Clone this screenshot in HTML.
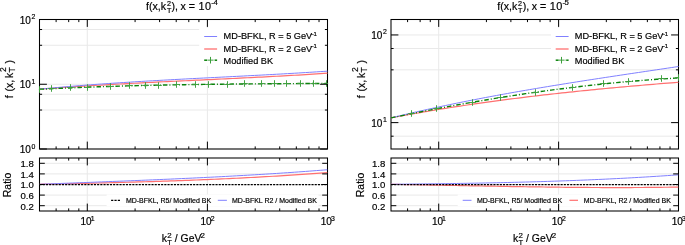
<!DOCTYPE html>
<html><head><meta charset="utf-8"><style>
html,body{margin:0;padding:0;background:#fff;}
body{width:685px;height:245px;overflow:hidden;}
svg{display:block;will-change:transform;}
text{font-family:"Liberation Sans", sans-serif;stroke:#000;stroke-width:0.18px;}
</style></head><body>
<svg width="685" height="245" viewBox="0 0 685 245" font-family='"Liberation Sans", sans-serif' fill="#000">
<rect width="685" height="245" fill="#fff"/>
<line x1="39.50" y1="149.00" x2="327.50" y2="149.00" stroke="#e9e9e9" stroke-width="1.0" />
<line x1="39.50" y1="84.25" x2="327.50" y2="84.25" stroke="#e9e9e9" stroke-width="1.0" />
<line x1="39.50" y1="19.50" x2="327.50" y2="19.50" stroke="#e9e9e9" stroke-width="1.0" />
<line x1="39.50" y1="110.02" x2="327.50" y2="110.02" stroke="#e9e9e9" stroke-width="1.0" />
<line x1="39.50" y1="94.28" x2="327.50" y2="94.28" stroke="#e9e9e9" stroke-width="1.0" />
<line x1="39.50" y1="45.27" x2="327.50" y2="45.27" stroke="#e9e9e9" stroke-width="1.0" />
<line x1="39.50" y1="29.53" x2="327.50" y2="29.53" stroke="#e9e9e9" stroke-width="1.0" />
<line x1="87.29" y1="19.50" x2="87.29" y2="149.00" stroke="#e9e9e9" stroke-width="1.0" />
<line x1="207.40" y1="19.50" x2="207.40" y2="149.00" stroke="#e9e9e9" stroke-width="1.0" />
<line x1="39.50" y1="205.70" x2="327.50" y2="205.70" stroke="#e9e9e9" stroke-width="1.0" />
<line x1="39.50" y1="195.10" x2="327.50" y2="195.10" stroke="#e9e9e9" stroke-width="1.0" />
<line x1="39.50" y1="184.50" x2="327.50" y2="184.50" stroke="#e9e9e9" stroke-width="1.0" />
<line x1="39.50" y1="173.90" x2="327.50" y2="173.90" stroke="#e9e9e9" stroke-width="1.0" />
<line x1="39.50" y1="163.30" x2="327.50" y2="163.30" stroke="#e9e9e9" stroke-width="1.0" />
<line x1="87.29" y1="158.00" x2="87.29" y2="211.00" stroke="#e9e9e9" stroke-width="1.0" />
<line x1="207.40" y1="158.00" x2="207.40" y2="211.00" stroke="#e9e9e9" stroke-width="1.0" />
<rect x="199.2" y="28.0" width="128.3" height="38.0" fill="#fff"/>
<rect x="106.6" y="194.5" width="211.9" height="11.8" fill="#fff"/>
<rect x="39.50" y="19.50" width="288.00" height="129.50" fill="none" stroke="#000" stroke-width="1.05"/>
<rect x="39.50" y="158.00" width="288.00" height="53.00" fill="none" stroke="#000" stroke-width="1.05"/>
<clipPath id="cu0"><rect x="38.90" y="19.50" width="289.20" height="129.50"/></clipPath>
<clipPath id="cl0"><rect x="39.50" y="158.00" width="288.00" height="53.00"/></clipPath>
<g clip-path="url(#cu0)">
<polyline points="39.50,89.20 43.15,88.92 46.79,88.65 50.44,88.38 54.08,88.11 57.73,87.85 61.37,87.59 65.02,87.34 68.66,87.10 72.31,86.85 75.96,86.61 79.60,86.38 83.25,86.15 86.89,85.92 90.54,85.69 94.18,85.47 97.83,85.25 101.47,85.04 105.12,84.83 108.77,84.62 112.41,84.41 116.06,84.21 119.70,84.01 123.35,83.81 126.99,83.62 130.64,83.43 134.28,83.24 137.93,83.05 141.58,82.86 145.22,82.67 148.87,82.49 152.51,82.31 156.16,82.13 159.80,81.95 163.45,81.77 167.09,81.60 170.74,81.42 174.39,81.25 178.03,81.07 181.68,80.90 185.32,80.73 188.97,80.56 192.61,80.38 196.26,80.21 199.91,80.04 203.55,79.87 207.20,79.70 210.84,79.53 214.49,79.35 218.13,79.18 221.78,79.01 225.42,78.84 229.07,78.66 232.72,78.49 236.36,78.31 240.01,78.13 243.65,77.95 247.30,77.77 250.94,77.59 254.59,77.41 258.23,77.22 261.88,77.03 265.53,76.84 269.17,76.65 272.82,76.46 276.46,76.26 280.11,76.07 283.75,75.87 287.40,75.66 291.04,75.46 294.69,75.25 298.34,75.04 301.98,74.82 305.63,74.60 309.27,74.38 312.92,74.16 316.56,73.93 320.21,73.70 323.85,73.46 327.50,73.22" fill="none" stroke="#ff7070" stroke-width="1.2" stroke-linejoin="round" />
<polyline points="39.50,89.20 43.15,88.85 46.79,88.50 50.44,88.16 54.08,87.82 57.73,87.50 61.37,87.18 65.02,86.86 68.66,86.55 72.31,86.25 75.96,85.95 79.60,85.66 83.25,85.37 86.89,85.09 90.54,84.82 94.18,84.55 97.83,84.28 101.47,84.02 105.12,83.76 108.77,83.51 112.41,83.26 116.06,83.02 119.70,82.78 123.35,82.54 126.99,82.31 130.64,82.08 134.28,81.85 137.93,81.63 141.58,81.41 145.22,81.20 148.87,80.98 152.51,80.77 156.16,80.57 159.80,80.36 163.45,80.16 167.09,79.96 170.74,79.76 174.39,79.56 178.03,79.37 181.68,79.18 185.32,78.98 188.97,78.79 192.61,78.60 196.26,78.42 199.91,78.23 203.55,78.04 207.20,77.86 210.84,77.67 214.49,77.49 218.13,77.30 221.78,77.12 225.42,76.93 229.07,76.75 232.72,76.56 236.36,76.38 240.01,76.19 243.65,76.00 247.30,75.81 250.94,75.62 254.59,75.43 258.23,75.24 261.88,75.05 265.53,74.85 269.17,74.66 272.82,74.46 276.46,74.26 280.11,74.05 283.75,73.85 287.40,73.64 291.04,73.43 294.69,73.22 298.34,73.00 301.98,72.78 305.63,72.56 309.27,72.33 312.92,72.11 316.56,71.87 320.21,71.64 323.85,71.40 327.50,71.15" fill="none" stroke="#8080ff" stroke-width="1.0" stroke-linejoin="round" />
<polyline points="39.50,89.30 43.15,89.11 46.79,88.93 50.44,88.75 54.08,88.58 57.73,88.41 61.37,88.25 65.02,88.09 68.66,87.93 72.31,87.78 75.96,87.63 79.60,87.48 83.25,87.34 86.89,87.20 90.54,87.07 94.18,86.94 97.83,86.81 101.47,86.69 105.12,86.57 108.77,86.45 112.41,86.34 116.06,86.23 119.70,86.12 123.35,86.02 126.99,85.92 130.64,85.82 134.28,85.73 137.93,85.64 141.58,85.55 145.22,85.46 148.87,85.38 152.51,85.30 156.16,85.22 159.80,85.14 163.45,85.07 167.09,85.00 170.74,84.93 174.39,84.86 178.03,84.80 181.68,84.74 185.32,84.68 188.97,84.62 192.61,84.57 196.26,84.51 199.91,84.46 203.55,84.41 207.20,84.36 210.84,84.32 214.49,84.27 218.13,84.23 221.78,84.19 225.42,84.15 229.07,84.11 232.72,84.07 236.36,84.04 240.01,84.00 243.65,83.97 247.30,83.94 250.94,83.91 254.59,83.88 258.23,83.85 261.88,83.82 265.53,83.79 269.17,83.76 272.82,83.74 276.46,83.71 280.11,83.69 283.75,83.67 287.40,83.64 291.04,83.62 294.69,83.60 298.34,83.57 301.98,83.55 305.63,83.53 309.27,83.51 312.92,83.49 316.56,83.46 320.21,83.44 323.85,83.42 327.50,83.40" fill="none" stroke="#0a820a" stroke-width="1.4" stroke-linejoin="round" stroke-dasharray="4.5,2,1,2"/>
<line x1="39.50" y1="86.20" x2="39.50" y2="92.80" stroke="#3d9f3d" stroke-width="0.95" />
<line x1="36.20" y1="89.50" x2="42.80" y2="89.50" stroke="#3d9f3d" stroke-width="0.95" />
<line x1="51.50" y1="85.20" x2="51.50" y2="91.80" stroke="#3d9f3d" stroke-width="0.95" />
<line x1="48.20" y1="88.50" x2="54.80" y2="88.50" stroke="#3d9f3d" stroke-width="0.95" />
<line x1="70.50" y1="84.20" x2="70.50" y2="90.80" stroke="#3d9f3d" stroke-width="0.95" />
<line x1="67.20" y1="87.50" x2="73.80" y2="87.50" stroke="#3d9f3d" stroke-width="0.95" />
<line x1="87.50" y1="84.20" x2="87.50" y2="90.80" stroke="#3d9f3d" stroke-width="0.95" />
<line x1="84.20" y1="87.50" x2="90.80" y2="87.50" stroke="#3d9f3d" stroke-width="0.95" />
<line x1="110.50" y1="83.20" x2="110.50" y2="89.80" stroke="#3d9f3d" stroke-width="0.95" />
<line x1="107.20" y1="86.50" x2="113.80" y2="86.50" stroke="#3d9f3d" stroke-width="0.95" />
<line x1="129.50" y1="82.20" x2="129.50" y2="88.80" stroke="#3d9f3d" stroke-width="0.95" />
<line x1="126.20" y1="85.50" x2="132.80" y2="85.50" stroke="#3d9f3d" stroke-width="0.95" />
<line x1="145.50" y1="82.20" x2="145.50" y2="88.80" stroke="#3d9f3d" stroke-width="0.95" />
<line x1="142.20" y1="85.50" x2="148.80" y2="85.50" stroke="#3d9f3d" stroke-width="0.95" />
<line x1="158.50" y1="82.20" x2="158.50" y2="88.80" stroke="#3d9f3d" stroke-width="0.95" />
<line x1="155.20" y1="85.50" x2="161.80" y2="85.50" stroke="#3d9f3d" stroke-width="0.95" />
<line x1="176.50" y1="81.20" x2="176.50" y2="87.80" stroke="#3d9f3d" stroke-width="0.95" />
<line x1="173.20" y1="84.50" x2="179.80" y2="84.50" stroke="#3d9f3d" stroke-width="0.95" />
<line x1="195.50" y1="81.20" x2="195.50" y2="87.80" stroke="#3d9f3d" stroke-width="0.95" />
<line x1="192.20" y1="84.50" x2="198.80" y2="84.50" stroke="#3d9f3d" stroke-width="0.95" />
<line x1="208.50" y1="81.20" x2="208.50" y2="87.80" stroke="#3d9f3d" stroke-width="0.95" />
<line x1="205.20" y1="84.50" x2="211.80" y2="84.50" stroke="#3d9f3d" stroke-width="0.95" />
<line x1="227.50" y1="81.20" x2="227.50" y2="87.80" stroke="#3d9f3d" stroke-width="0.95" />
<line x1="224.20" y1="84.50" x2="230.80" y2="84.50" stroke="#3d9f3d" stroke-width="0.95" />
<line x1="244.50" y1="80.20" x2="244.50" y2="86.80" stroke="#3d9f3d" stroke-width="0.95" />
<line x1="241.20" y1="83.50" x2="247.80" y2="83.50" stroke="#3d9f3d" stroke-width="0.95" />
<line x1="261.50" y1="80.20" x2="261.50" y2="86.80" stroke="#3d9f3d" stroke-width="0.95" />
<line x1="258.20" y1="83.50" x2="264.80" y2="83.50" stroke="#3d9f3d" stroke-width="0.95" />
<line x1="274.50" y1="80.20" x2="274.50" y2="86.80" stroke="#3d9f3d" stroke-width="0.95" />
<line x1="271.20" y1="83.50" x2="277.80" y2="83.50" stroke="#3d9f3d" stroke-width="0.95" />
<line x1="286.50" y1="80.20" x2="286.50" y2="86.80" stroke="#3d9f3d" stroke-width="0.95" />
<line x1="283.20" y1="83.50" x2="289.80" y2="83.50" stroke="#3d9f3d" stroke-width="0.95" />
<line x1="300.50" y1="80.20" x2="300.50" y2="86.80" stroke="#3d9f3d" stroke-width="0.95" />
<line x1="297.20" y1="83.50" x2="303.80" y2="83.50" stroke="#3d9f3d" stroke-width="0.95" />
<line x1="313.50" y1="80.20" x2="313.50" y2="86.80" stroke="#3d9f3d" stroke-width="0.95" />
<line x1="310.20" y1="83.50" x2="316.80" y2="83.50" stroke="#3d9f3d" stroke-width="0.95" />
<line x1="326.50" y1="80.20" x2="326.50" y2="86.80" stroke="#3d9f3d" stroke-width="0.95" />
<line x1="323.20" y1="83.50" x2="329.80" y2="83.50" stroke="#3d9f3d" stroke-width="0.95" />
</g>
<g clip-path="url(#cl0)">
<polyline points="39.50,184.30 43.15,184.22 46.79,184.15 50.44,184.07 54.08,184.00 57.73,183.92 61.37,183.84 65.02,183.76 68.66,183.68 72.31,183.60 75.96,183.52 79.60,183.44 83.25,183.36 86.89,183.28 90.54,183.19 94.18,183.10 97.83,183.02 101.47,182.93 105.12,182.84 108.77,182.75 112.41,182.66 116.06,182.56 119.70,182.47 123.35,182.37 126.99,182.27 130.64,182.17 134.28,182.07 137.93,181.97 141.58,181.86 145.22,181.75 148.87,181.64 152.51,181.53 156.16,181.42 159.80,181.30 163.45,181.18 167.09,181.06 170.74,180.94 174.39,180.81 178.03,180.68 181.68,180.55 185.32,180.42 188.97,180.28 192.61,180.15 196.26,180.00 199.91,179.86 203.55,179.71 207.20,179.56 210.84,179.41 214.49,179.25 218.13,179.09 221.78,178.93 225.42,178.76 229.07,178.59 232.72,178.42 236.36,178.24 240.01,178.06 243.65,177.88 247.30,177.69 250.94,177.50 254.59,177.31 258.23,177.11 261.88,176.91 265.53,176.70 269.17,176.49 272.82,176.27 276.46,176.05 280.11,175.83 283.75,175.60 287.40,175.37 291.04,175.14 294.69,174.90 298.34,174.65 301.98,174.40 305.63,174.15 309.27,173.89 312.92,173.63 316.56,173.36 320.21,173.08 323.85,172.81 327.50,172.52" fill="none" stroke="#ff7070" stroke-width="1.2" stroke-linejoin="round" />
<polyline points="39.50,184.30 43.15,184.16 46.79,184.01 50.44,183.87 54.08,183.73 57.73,183.59 61.37,183.45 65.02,183.31 68.66,183.17 72.31,183.03 75.96,182.89 79.60,182.75 83.25,182.61 86.89,182.47 90.54,182.33 94.18,182.19 97.83,182.05 101.47,181.91 105.12,181.77 108.77,181.62 112.41,181.48 116.06,181.34 119.70,181.20 123.35,181.05 126.99,180.91 130.64,180.76 134.28,180.61 137.93,180.46 141.58,180.32 145.22,180.17 148.87,180.01 152.51,179.86 156.16,179.71 159.80,179.55 163.45,179.39 167.09,179.24 170.74,179.08 174.39,178.91 178.03,178.75 181.68,178.59 185.32,178.42 188.97,178.25 192.61,178.08 196.26,177.90 199.91,177.73 203.55,177.55 207.20,177.37 210.84,177.19 214.49,177.01 218.13,176.82 221.78,176.63 225.42,176.44 229.07,176.24 232.72,176.04 236.36,175.84 240.01,175.64 243.65,175.43 247.30,175.22 250.94,175.01 254.59,174.80 258.23,174.58 261.88,174.36 265.53,174.13 269.17,173.90 272.82,173.67 276.46,173.44 280.11,173.20 283.75,172.95 287.40,172.71 291.04,172.46 294.69,172.20 298.34,171.94 301.98,171.68 305.63,171.42 309.27,171.15 312.92,170.87 316.56,170.59 320.21,170.31 323.85,170.02 327.50,169.73" fill="none" stroke="#8080ff" stroke-width="1.0" stroke-linejoin="round" />
<line x1="39.50" y1="184.70" x2="327.50" y2="184.70" stroke="#000" stroke-width="1.3" stroke-dasharray="2.1,1.1"/>
</g>
<line x1="87.29" y1="19.50" x2="87.29" y2="26.90" stroke="#000" stroke-width="1.0" />
<line x1="87.29" y1="149.00" x2="87.29" y2="141.60" stroke="#000" stroke-width="1.0" />
<line x1="207.40" y1="19.50" x2="207.40" y2="26.90" stroke="#000" stroke-width="1.0" />
<line x1="207.40" y1="149.00" x2="207.40" y2="141.60" stroke="#000" stroke-width="1.0" />
<line x1="327.50" y1="19.50" x2="327.50" y2="26.90" stroke="#000" stroke-width="1.0" />
<line x1="327.50" y1="149.00" x2="327.50" y2="141.60" stroke="#000" stroke-width="1.0" />
<line x1="56.11" y1="19.50" x2="56.11" y2="22.10" stroke="#000" stroke-width="1.0" />
<line x1="56.11" y1="149.00" x2="56.11" y2="146.40" stroke="#000" stroke-width="1.0" />
<line x1="68.69" y1="19.50" x2="68.69" y2="22.10" stroke="#000" stroke-width="1.0" />
<line x1="68.69" y1="149.00" x2="68.69" y2="146.40" stroke="#000" stroke-width="1.0" />
<line x1="78.82" y1="19.50" x2="78.82" y2="22.10" stroke="#000" stroke-width="1.0" />
<line x1="78.82" y1="149.00" x2="78.82" y2="146.40" stroke="#000" stroke-width="1.0" />
<line x1="135.09" y1="19.50" x2="135.09" y2="22.10" stroke="#000" stroke-width="1.0" />
<line x1="135.09" y1="149.00" x2="135.09" y2="146.40" stroke="#000" stroke-width="1.0" />
<line x1="159.60" y1="19.50" x2="159.60" y2="22.10" stroke="#000" stroke-width="1.0" />
<line x1="159.60" y1="149.00" x2="159.60" y2="146.40" stroke="#000" stroke-width="1.0" />
<line x1="176.21" y1="19.50" x2="176.21" y2="22.10" stroke="#000" stroke-width="1.0" />
<line x1="176.21" y1="149.00" x2="176.21" y2="146.40" stroke="#000" stroke-width="1.0" />
<line x1="188.79" y1="19.50" x2="188.79" y2="22.10" stroke="#000" stroke-width="1.0" />
<line x1="188.79" y1="149.00" x2="188.79" y2="146.40" stroke="#000" stroke-width="1.0" />
<line x1="198.92" y1="19.50" x2="198.92" y2="22.10" stroke="#000" stroke-width="1.0" />
<line x1="198.92" y1="149.00" x2="198.92" y2="146.40" stroke="#000" stroke-width="1.0" />
<line x1="255.19" y1="19.50" x2="255.19" y2="22.10" stroke="#000" stroke-width="1.0" />
<line x1="255.19" y1="149.00" x2="255.19" y2="146.40" stroke="#000" stroke-width="1.0" />
<line x1="279.71" y1="19.50" x2="279.71" y2="22.10" stroke="#000" stroke-width="1.0" />
<line x1="279.71" y1="149.00" x2="279.71" y2="146.40" stroke="#000" stroke-width="1.0" />
<line x1="296.32" y1="19.50" x2="296.32" y2="22.10" stroke="#000" stroke-width="1.0" />
<line x1="296.32" y1="149.00" x2="296.32" y2="146.40" stroke="#000" stroke-width="1.0" />
<line x1="308.90" y1="19.50" x2="308.90" y2="22.10" stroke="#000" stroke-width="1.0" />
<line x1="308.90" y1="149.00" x2="308.90" y2="146.40" stroke="#000" stroke-width="1.0" />
<line x1="319.02" y1="19.50" x2="319.02" y2="22.10" stroke="#000" stroke-width="1.0" />
<line x1="319.02" y1="149.00" x2="319.02" y2="146.40" stroke="#000" stroke-width="1.0" />
<line x1="87.29" y1="158.00" x2="87.29" y2="165.40" stroke="#000" stroke-width="1.0" />
<line x1="87.29" y1="211.00" x2="87.29" y2="203.60" stroke="#000" stroke-width="1.0" />
<line x1="207.40" y1="158.00" x2="207.40" y2="165.40" stroke="#000" stroke-width="1.0" />
<line x1="207.40" y1="211.00" x2="207.40" y2="203.60" stroke="#000" stroke-width="1.0" />
<line x1="327.50" y1="158.00" x2="327.50" y2="165.40" stroke="#000" stroke-width="1.0" />
<line x1="327.50" y1="211.00" x2="327.50" y2="203.60" stroke="#000" stroke-width="1.0" />
<line x1="56.11" y1="158.00" x2="56.11" y2="160.60" stroke="#000" stroke-width="1.0" />
<line x1="56.11" y1="211.00" x2="56.11" y2="208.40" stroke="#000" stroke-width="1.0" />
<line x1="68.69" y1="158.00" x2="68.69" y2="160.60" stroke="#000" stroke-width="1.0" />
<line x1="68.69" y1="211.00" x2="68.69" y2="208.40" stroke="#000" stroke-width="1.0" />
<line x1="78.82" y1="158.00" x2="78.82" y2="160.60" stroke="#000" stroke-width="1.0" />
<line x1="78.82" y1="211.00" x2="78.82" y2="208.40" stroke="#000" stroke-width="1.0" />
<line x1="135.09" y1="158.00" x2="135.09" y2="160.60" stroke="#000" stroke-width="1.0" />
<line x1="135.09" y1="211.00" x2="135.09" y2="208.40" stroke="#000" stroke-width="1.0" />
<line x1="159.60" y1="158.00" x2="159.60" y2="160.60" stroke="#000" stroke-width="1.0" />
<line x1="159.60" y1="211.00" x2="159.60" y2="208.40" stroke="#000" stroke-width="1.0" />
<line x1="176.21" y1="158.00" x2="176.21" y2="160.60" stroke="#000" stroke-width="1.0" />
<line x1="176.21" y1="211.00" x2="176.21" y2="208.40" stroke="#000" stroke-width="1.0" />
<line x1="188.79" y1="158.00" x2="188.79" y2="160.60" stroke="#000" stroke-width="1.0" />
<line x1="188.79" y1="211.00" x2="188.79" y2="208.40" stroke="#000" stroke-width="1.0" />
<line x1="198.92" y1="158.00" x2="198.92" y2="160.60" stroke="#000" stroke-width="1.0" />
<line x1="198.92" y1="211.00" x2="198.92" y2="208.40" stroke="#000" stroke-width="1.0" />
<line x1="255.19" y1="158.00" x2="255.19" y2="160.60" stroke="#000" stroke-width="1.0" />
<line x1="255.19" y1="211.00" x2="255.19" y2="208.40" stroke="#000" stroke-width="1.0" />
<line x1="279.71" y1="158.00" x2="279.71" y2="160.60" stroke="#000" stroke-width="1.0" />
<line x1="279.71" y1="211.00" x2="279.71" y2="208.40" stroke="#000" stroke-width="1.0" />
<line x1="296.32" y1="158.00" x2="296.32" y2="160.60" stroke="#000" stroke-width="1.0" />
<line x1="296.32" y1="211.00" x2="296.32" y2="208.40" stroke="#000" stroke-width="1.0" />
<line x1="308.90" y1="158.00" x2="308.90" y2="160.60" stroke="#000" stroke-width="1.0" />
<line x1="308.90" y1="211.00" x2="308.90" y2="208.40" stroke="#000" stroke-width="1.0" />
<line x1="319.02" y1="158.00" x2="319.02" y2="160.60" stroke="#000" stroke-width="1.0" />
<line x1="319.02" y1="211.00" x2="319.02" y2="208.40" stroke="#000" stroke-width="1.0" />
<line x1="39.50" y1="149.00" x2="46.90" y2="149.00" stroke="#000" stroke-width="1.0" />
<line x1="327.50" y1="149.00" x2="320.10" y2="149.00" stroke="#000" stroke-width="1.0" />
<line x1="39.50" y1="84.25" x2="46.90" y2="84.25" stroke="#000" stroke-width="1.0" />
<line x1="327.50" y1="84.25" x2="320.10" y2="84.25" stroke="#000" stroke-width="1.0" />
<line x1="39.50" y1="19.50" x2="46.90" y2="19.50" stroke="#000" stroke-width="1.0" />
<line x1="327.50" y1="19.50" x2="320.10" y2="19.50" stroke="#000" stroke-width="1.0" />
<line x1="39.50" y1="110.02" x2="42.10" y2="110.02" stroke="#000" stroke-width="1.0" />
<line x1="327.50" y1="110.02" x2="324.90" y2="110.02" stroke="#000" stroke-width="1.0" />
<line x1="39.50" y1="94.28" x2="42.10" y2="94.28" stroke="#000" stroke-width="1.0" />
<line x1="327.50" y1="94.28" x2="324.90" y2="94.28" stroke="#000" stroke-width="1.0" />
<line x1="39.50" y1="45.27" x2="42.10" y2="45.27" stroke="#000" stroke-width="1.0" />
<line x1="327.50" y1="45.27" x2="324.90" y2="45.27" stroke="#000" stroke-width="1.0" />
<line x1="39.50" y1="29.53" x2="42.10" y2="29.53" stroke="#000" stroke-width="1.0" />
<line x1="327.50" y1="29.53" x2="324.90" y2="29.53" stroke="#000" stroke-width="1.0" />
<line x1="39.50" y1="205.70" x2="44.80" y2="205.70" stroke="#000" stroke-width="1.0" />
<line x1="327.50" y1="205.70" x2="322.20" y2="205.70" stroke="#000" stroke-width="1.0" />
<line x1="39.50" y1="195.10" x2="44.80" y2="195.10" stroke="#000" stroke-width="1.0" />
<line x1="327.50" y1="195.10" x2="322.20" y2="195.10" stroke="#000" stroke-width="1.0" />
<line x1="39.50" y1="184.50" x2="44.80" y2="184.50" stroke="#000" stroke-width="1.0" />
<line x1="327.50" y1="184.50" x2="322.20" y2="184.50" stroke="#000" stroke-width="1.0" />
<line x1="39.50" y1="173.90" x2="44.80" y2="173.90" stroke="#000" stroke-width="1.0" />
<line x1="327.50" y1="173.90" x2="322.20" y2="173.90" stroke="#000" stroke-width="1.0" />
<line x1="39.50" y1="163.30" x2="44.80" y2="163.30" stroke="#000" stroke-width="1.0" />
<line x1="327.50" y1="163.30" x2="322.20" y2="163.30" stroke="#000" stroke-width="1.0" />
<text x="30.80" y="153.20" font-size="10.0" text-anchor="end" >10</text>
<text x="31.50" y="148.50" font-size="6.9" >0</text>
<text x="30.80" y="88.45" font-size="10.0" text-anchor="end" >10</text>
<text x="31.50" y="83.75" font-size="6.9" >1</text>
<text x="30.80" y="23.70" font-size="10.0" text-anchor="end" >10</text>
<text x="31.50" y="19.00" font-size="6.9" >2</text>
<text x="33.80" y="209.60" font-size="9.6" text-anchor="end" >0.2</text>
<text x="33.80" y="199.00" font-size="9.6" text-anchor="end" >0.6</text>
<text x="33.80" y="188.40" font-size="9.6" text-anchor="end" >1.0</text>
<text x="33.80" y="177.80" font-size="9.6" text-anchor="end" >1.4</text>
<text x="33.80" y="167.20" font-size="9.6" text-anchor="end" >1.8</text>
<text x="91.59" y="224.60" font-size="10.0" text-anchor="end" >10</text>
<text x="90.69" y="220.60" font-size="6.9" >1</text>
<text x="211.70" y="224.60" font-size="10.0" text-anchor="end" >10</text>
<text x="210.80" y="220.60" font-size="6.9" >2</text>
<text x="331.80" y="224.60" font-size="10.0" text-anchor="end" >10</text>
<text x="330.90" y="220.60" font-size="6.9" >3</text>
<g transform="translate(12.8,0) rotate(-90)" font-size="10.4"><text x="-98.3">f</text><text x="-91.5">(x,</text><text x="-77.9">k</text><text x="-72.0" y="-6.6" font-size="8.6">2</text><text x="-72.4" y="2.6" font-size="8.6">T</text><text x="-63.4">)</text></g>
<g transform="translate(11.2,185.0) rotate(-90)"><text x="0" y="0" font-size="10.5" text-anchor="middle">Ratio</text></g>
<text x="146.0" y="9.8" font-size="10.6">f(x,k</text>
<text x="166.9" y="5.6" font-size="7.2">2</text>
<text x="166.9" y="12.6" font-size="7.2">T</text>
<text x="171.6" y="9.8" font-size="10.6">),</text>
<text x="180.6" y="9.8" font-size="10.6">x =</text>
<text x="198.5" y="9.9" font-size="10.9" letter-spacing="0.4">10</text>
<text x="211.3" y="5.4" font-size="7.8" letter-spacing="-0.5">-4</text>
<text x="161.7" y="242" font-size="10.4">k</text>
<text x="167.2" y="237.9" font-size="7.9">2</text>
<text x="167.3" y="245.4" font-size="7.6">T</text>
<text x="174.8" y="242" font-size="10.4">/ GeV</text>
<text x="200.5" y="237.9" font-size="7.9">2</text>
<line x1="204.20" y1="36.50" x2="217.10" y2="36.50" stroke="#8080ff" stroke-width="1.0" />
<line x1="204.20" y1="49.00" x2="217.10" y2="49.00" stroke="#ff7070" stroke-width="1.3" />
<line x1="204.20" y1="60.20" x2="207.10" y2="60.20" stroke="#0a820a" stroke-width="1.5" />
<line x1="207.10" y1="60.20" x2="214.40" y2="60.20" stroke="#0a820a" stroke-width="1.5" stroke-opacity="0.3"/>
<line x1="214.70" y1="60.20" x2="217.10" y2="60.20" stroke="#0a820a" stroke-width="1.5" />
<line x1="210.50" y1="56.90" x2="210.50" y2="63.50" stroke="#3d9f3d" stroke-width="1.0" />
<line x1="208.00" y1="60.20" x2="213.00" y2="60.20" stroke="#3d9f3d" stroke-width="1.0" stroke-opacity="0.6"/>
<text x="223.60" y="39.40" font-size="9.2" >MD-BFKL, R = 5 GeV<tspan font-size="6" dx="-1.6" dy="-3.9" letter-spacing="-0.5">&#8722;1</tspan></text>
<text x="223.60" y="52.00" font-size="9.2" >MD-BFKL, R = 2 GeV<tspan font-size="6" dx="-1.6" dy="-3.9" letter-spacing="-0.5">&#8722;1</tspan></text>
<text x="223.60" y="63.60" font-size="9.2" >Modified BK</text>
<line x1="111.10" y1="200.40" x2="120.00" y2="200.40" stroke="#000" stroke-width="1.4" stroke-dasharray="2.2,1.15"/>
<text x="125.90" y="202.90" font-size="7.0" >MD-BFKL, R5/ Modified BK</text>
<line x1="217.80" y1="200.30" x2="226.90" y2="200.30" stroke="#8080ff" stroke-width="1.0" />
<text x="232.00" y="202.90" font-size="7.0" >MD-BFKL R2 / Modified BK</text>
<line x1="391.00" y1="122.61" x2="678.50" y2="122.61" stroke="#e9e9e9" stroke-width="1.0" />
<line x1="391.00" y1="34.94" x2="678.50" y2="34.94" stroke="#e9e9e9" stroke-width="1.0" />
<line x1="391.00" y1="136.19" x2="678.50" y2="136.19" stroke="#e9e9e9" stroke-width="1.0" />
<line x1="391.00" y1="69.83" x2="678.50" y2="69.83" stroke="#e9e9e9" stroke-width="1.0" />
<line x1="391.00" y1="48.52" x2="678.50" y2="48.52" stroke="#e9e9e9" stroke-width="1.0" />
<line x1="438.71" y1="19.50" x2="438.71" y2="149.00" stroke="#e9e9e9" stroke-width="1.0" />
<line x1="558.61" y1="19.50" x2="558.61" y2="149.00" stroke="#e9e9e9" stroke-width="1.0" />
<line x1="391.00" y1="205.70" x2="678.50" y2="205.70" stroke="#e9e9e9" stroke-width="1.0" />
<line x1="391.00" y1="195.10" x2="678.50" y2="195.10" stroke="#e9e9e9" stroke-width="1.0" />
<line x1="391.00" y1="184.50" x2="678.50" y2="184.50" stroke="#e9e9e9" stroke-width="1.0" />
<line x1="391.00" y1="173.90" x2="678.50" y2="173.90" stroke="#e9e9e9" stroke-width="1.0" />
<line x1="391.00" y1="163.30" x2="678.50" y2="163.30" stroke="#e9e9e9" stroke-width="1.0" />
<line x1="438.71" y1="158.00" x2="438.71" y2="211.00" stroke="#e9e9e9" stroke-width="1.0" />
<line x1="558.61" y1="158.00" x2="558.61" y2="211.00" stroke="#e9e9e9" stroke-width="1.0" />
<rect x="551.0" y="28.0" width="127.5" height="39.0" fill="#fff"/>
<rect x="457.7" y="194.5" width="220.8" height="11.8" fill="#fff"/>
<rect x="391.00" y="19.50" width="287.50" height="129.50" fill="none" stroke="#000" stroke-width="1.05"/>
<rect x="391.00" y="158.00" width="287.50" height="53.00" fill="none" stroke="#000" stroke-width="1.05"/>
<clipPath id="cu1"><rect x="390.40" y="19.50" width="288.70" height="129.50"/></clipPath>
<clipPath id="cl1"><rect x="391.00" y="158.00" width="287.50" height="53.00"/></clipPath>
<g clip-path="url(#cu1)">
<polyline points="391.00,117.90 394.64,117.21 398.28,116.53 401.92,115.85 405.56,115.18 409.20,114.52 412.84,113.87 416.47,113.23 420.11,112.59 423.75,111.96 427.39,111.34 431.03,110.73 434.67,110.12 438.31,109.52 441.95,108.93 445.59,108.34 449.23,107.77 452.87,107.20 456.51,106.63 460.15,106.07 463.78,105.52 467.42,104.98 471.06,104.44 474.70,103.91 478.34,103.39 481.98,102.87 485.62,102.36 489.26,101.86 492.90,101.36 496.54,100.86 500.18,100.38 503.82,99.90 507.46,99.42 511.09,98.95 514.73,98.49 518.37,98.03 522.01,97.58 525.65,97.13 529.29,96.69 532.93,96.25 536.57,95.82 540.21,95.39 543.85,94.97 547.49,94.56 551.13,94.14 554.77,93.74 558.41,93.34 562.04,92.94 565.68,92.55 569.32,92.16 572.96,91.78 576.60,91.40 580.24,91.02 583.88,90.65 587.52,90.29 591.16,89.92 594.80,89.57 598.44,89.21 602.08,88.86 605.72,88.51 609.35,88.17 612.99,87.83 616.63,87.50 620.27,87.16 623.91,86.83 627.55,86.51 631.19,86.19 634.83,85.87 638.47,85.55 642.11,85.24 645.75,84.93 649.39,84.62 653.03,84.32 656.66,84.01 660.30,83.71 663.94,83.42 667.58,83.12 671.22,82.83 674.86,82.54 678.50,82.25" fill="none" stroke="#ff7070" stroke-width="1.2" stroke-linejoin="round" />
<polyline points="391.00,117.90 394.64,117.01 398.28,116.13 401.92,115.26 405.56,114.39 409.20,113.54 412.84,112.70 416.47,111.86 420.11,111.04 423.75,110.22 427.39,109.41 431.03,108.61 434.67,107.82 438.31,107.03 441.95,106.26 445.59,105.49 449.23,104.73 452.87,103.97 456.51,103.23 460.15,102.49 463.78,101.76 467.42,101.03 471.06,100.32 474.70,99.61 478.34,98.90 481.98,98.20 485.62,97.51 489.26,96.83 492.90,96.15 496.54,95.48 500.18,94.81 503.82,94.15 507.46,93.49 511.09,92.84 514.73,92.20 518.37,91.56 522.01,90.92 525.65,90.30 529.29,89.67 532.93,89.05 536.57,88.43 540.21,87.82 543.85,87.22 547.49,86.61 551.13,86.01 554.77,85.42 558.41,84.83 562.04,84.24 565.68,83.65 569.32,83.07 572.96,82.50 576.60,81.92 580.24,81.35 583.88,80.78 587.52,80.21 591.16,79.65 594.80,79.09 598.44,78.53 602.08,77.97 605.72,77.42 609.35,76.86 612.99,76.31 616.63,75.76 620.27,75.21 623.91,74.66 627.55,74.12 631.19,73.57 634.83,73.03 638.47,72.49 642.11,71.94 645.75,71.40 649.39,70.86 653.03,70.32 656.66,69.77 660.30,69.23 663.94,68.69 667.58,68.15 671.22,67.61 674.86,67.06 678.50,66.52" fill="none" stroke="#8080ff" stroke-width="1.0" stroke-linejoin="round" />
<polyline points="391.00,117.90 394.64,117.14 398.28,116.38 401.92,115.63 405.56,114.89 409.20,114.15 412.84,113.42 416.47,112.69 420.11,111.97 423.75,111.25 427.39,110.54 431.03,109.83 434.67,109.13 438.31,108.44 441.95,107.75 445.59,107.07 449.23,106.40 452.87,105.73 456.51,105.06 460.15,104.41 463.78,103.76 467.42,103.11 471.06,102.47 474.70,101.84 478.34,101.22 481.98,100.60 485.62,99.98 489.26,99.38 492.90,98.78 496.54,98.18 500.18,97.60 503.82,97.02 507.46,96.44 511.09,95.88 514.73,95.32 518.37,94.77 522.01,94.22 525.65,93.68 529.29,93.15 532.93,92.63 536.57,92.11 540.21,91.60 543.85,91.10 547.49,90.60 551.13,90.11 554.77,89.63 558.41,89.16 562.04,88.69 565.68,88.23 569.32,87.78 572.96,87.33 576.60,86.90 580.24,86.47 583.88,86.05 587.52,85.64 591.16,85.23 594.80,84.83 598.44,84.44 602.08,84.06 605.72,83.69 609.35,83.32 612.99,82.96 616.63,82.61 620.27,82.27 623.91,81.94 627.55,81.61 631.19,81.30 634.83,80.99 638.47,80.69 642.11,80.40 645.75,80.11 649.39,79.84 653.03,79.57 656.66,79.31 660.30,79.07 663.94,78.83 667.58,78.59 671.22,78.37 674.86,78.16 678.50,77.95" fill="none" stroke="#0a820a" stroke-width="1.4" stroke-linejoin="round" stroke-dasharray="4.5,2,1,2"/>
<line x1="411.50" y1="110.20" x2="411.50" y2="116.80" stroke="#3d9f3d" stroke-width="0.95" />
<line x1="408.20" y1="113.50" x2="414.80" y2="113.50" stroke="#3d9f3d" stroke-width="0.95" />
<line x1="436.50" y1="105.20" x2="436.50" y2="111.80" stroke="#3d9f3d" stroke-width="0.95" />
<line x1="433.20" y1="108.50" x2="439.80" y2="108.50" stroke="#3d9f3d" stroke-width="0.95" />
<line x1="472.50" y1="99.20" x2="472.50" y2="105.80" stroke="#3d9f3d" stroke-width="0.95" />
<line x1="469.20" y1="102.50" x2="475.80" y2="102.50" stroke="#3d9f3d" stroke-width="0.95" />
<line x1="500.50" y1="94.20" x2="500.50" y2="100.80" stroke="#3d9f3d" stroke-width="0.95" />
<line x1="497.20" y1="97.50" x2="503.80" y2="97.50" stroke="#3d9f3d" stroke-width="0.95" />
<line x1="535.50" y1="89.20" x2="535.50" y2="95.80" stroke="#3d9f3d" stroke-width="0.95" />
<line x1="532.20" y1="92.50" x2="538.80" y2="92.50" stroke="#3d9f3d" stroke-width="0.95" />
<line x1="572.50" y1="84.20" x2="572.50" y2="90.80" stroke="#3d9f3d" stroke-width="0.95" />
<line x1="569.20" y1="87.50" x2="575.80" y2="87.50" stroke="#3d9f3d" stroke-width="0.95" />
<line x1="603.50" y1="80.20" x2="603.50" y2="86.80" stroke="#3d9f3d" stroke-width="0.95" />
<line x1="600.20" y1="83.50" x2="606.80" y2="83.50" stroke="#3d9f3d" stroke-width="0.95" />
<line x1="628.50" y1="78.20" x2="628.50" y2="84.80" stroke="#3d9f3d" stroke-width="0.95" />
<line x1="625.20" y1="81.50" x2="631.80" y2="81.50" stroke="#3d9f3d" stroke-width="0.95" />
<line x1="661.50" y1="75.20" x2="661.50" y2="81.80" stroke="#3d9f3d" stroke-width="0.95" />
<line x1="658.20" y1="78.50" x2="664.80" y2="78.50" stroke="#3d9f3d" stroke-width="0.95" />
<line x1="678.50" y1="74.20" x2="678.50" y2="80.80" stroke="#3d9f3d" stroke-width="0.95" />
<line x1="675.20" y1="77.50" x2="681.80" y2="77.50" stroke="#3d9f3d" stroke-width="0.95" />
</g>
<g clip-path="url(#cl1)">
<polyline points="391.00,184.30 394.64,184.36 398.28,184.42 401.92,184.49 405.56,184.55 409.20,184.62 412.84,184.69 416.47,184.75 420.11,184.82 423.75,184.89 427.39,184.96 431.03,185.03 434.67,185.10 438.31,185.17 441.95,185.24 445.59,185.31 449.23,185.38 452.87,185.45 456.51,185.52 460.15,185.59 463.78,185.66 467.42,185.73 471.06,185.80 474.70,185.87 478.34,185.94 481.98,186.01 485.62,186.07 489.26,186.14 492.90,186.21 496.54,186.27 500.18,186.34 503.82,186.40 507.46,186.46 511.09,186.53 514.73,186.59 518.37,186.65 522.01,186.70 525.65,186.76 529.29,186.82 532.93,186.87 536.57,186.92 540.21,186.97 543.85,187.02 547.49,187.07 551.13,187.12 554.77,187.16 558.41,187.20 562.04,187.24 565.68,187.28 569.32,187.32 572.96,187.35 576.60,187.38 580.24,187.41 583.88,187.44 587.52,187.46 591.16,187.48 594.80,187.50 598.44,187.52 602.08,187.53 605.72,187.54 609.35,187.55 612.99,187.55 616.63,187.56 620.27,187.55 623.91,187.55 627.55,187.54 631.19,187.53 634.83,187.52 638.47,187.50 642.11,187.48 645.75,187.45 649.39,187.43 653.03,187.39 656.66,187.36 660.30,187.32 663.94,187.27 667.58,187.23 671.22,187.17 674.86,187.12 678.50,187.06" fill="none" stroke="#ff7070" stroke-width="1.2" stroke-linejoin="round" />
<polyline points="391.00,184.30 394.64,184.26 398.28,184.22 401.92,184.18 405.56,184.14 409.20,184.10 412.84,184.06 416.47,184.02 420.11,183.98 423.75,183.93 427.39,183.89 431.03,183.84 434.67,183.79 438.31,183.74 441.95,183.69 445.59,183.64 449.23,183.59 452.87,183.53 456.51,183.48 460.15,183.42 463.78,183.36 467.42,183.30 471.06,183.24 474.70,183.17 478.34,183.10 481.98,183.04 485.62,182.96 489.26,182.89 492.90,182.82 496.54,182.74 500.18,182.66 503.82,182.58 507.46,182.50 511.09,182.41 514.73,182.32 518.37,182.23 522.01,182.14 525.65,182.04 529.29,181.94 532.93,181.84 536.57,181.73 540.21,181.63 543.85,181.52 547.49,181.40 551.13,181.28 554.77,181.17 558.41,181.04 562.04,180.92 565.68,180.79 569.32,180.65 572.96,180.52 576.60,180.38 580.24,180.23 583.88,180.09 587.52,179.94 591.16,179.78 594.80,179.62 598.44,179.46 602.08,179.30 605.72,179.13 609.35,178.95 612.99,178.78 616.63,178.59 620.27,178.41 623.91,178.22 627.55,178.02 631.19,177.83 634.83,177.62 638.47,177.41 642.11,177.20 645.75,176.99 649.39,176.76 653.03,176.54 656.66,176.31 660.30,176.07 663.94,175.83 667.58,175.59 671.22,175.34 674.86,175.08 678.50,174.82" fill="none" stroke="#8080ff" stroke-width="1.0" stroke-linejoin="round" />
<line x1="391.00" y1="184.70" x2="678.50" y2="184.70" stroke="#000" stroke-width="1.3" stroke-dasharray="2.1,1.1"/>
</g>
<line x1="438.71" y1="19.50" x2="438.71" y2="26.90" stroke="#000" stroke-width="1.0" />
<line x1="438.71" y1="149.00" x2="438.71" y2="141.60" stroke="#000" stroke-width="1.0" />
<line x1="558.61" y1="19.50" x2="558.61" y2="26.90" stroke="#000" stroke-width="1.0" />
<line x1="558.61" y1="149.00" x2="558.61" y2="141.60" stroke="#000" stroke-width="1.0" />
<line x1="678.50" y1="19.50" x2="678.50" y2="26.90" stroke="#000" stroke-width="1.0" />
<line x1="678.50" y1="149.00" x2="678.50" y2="141.60" stroke="#000" stroke-width="1.0" />
<line x1="407.58" y1="19.50" x2="407.58" y2="22.10" stroke="#000" stroke-width="1.0" />
<line x1="407.58" y1="149.00" x2="407.58" y2="146.40" stroke="#000" stroke-width="1.0" />
<line x1="420.14" y1="19.50" x2="420.14" y2="22.10" stroke="#000" stroke-width="1.0" />
<line x1="420.14" y1="149.00" x2="420.14" y2="146.40" stroke="#000" stroke-width="1.0" />
<line x1="430.25" y1="19.50" x2="430.25" y2="22.10" stroke="#000" stroke-width="1.0" />
<line x1="430.25" y1="149.00" x2="430.25" y2="146.40" stroke="#000" stroke-width="1.0" />
<line x1="486.42" y1="19.50" x2="486.42" y2="22.10" stroke="#000" stroke-width="1.0" />
<line x1="486.42" y1="149.00" x2="486.42" y2="146.40" stroke="#000" stroke-width="1.0" />
<line x1="510.89" y1="19.50" x2="510.89" y2="22.10" stroke="#000" stroke-width="1.0" />
<line x1="510.89" y1="149.00" x2="510.89" y2="146.40" stroke="#000" stroke-width="1.0" />
<line x1="527.48" y1="19.50" x2="527.48" y2="22.10" stroke="#000" stroke-width="1.0" />
<line x1="527.48" y1="149.00" x2="527.48" y2="146.40" stroke="#000" stroke-width="1.0" />
<line x1="540.03" y1="19.50" x2="540.03" y2="22.10" stroke="#000" stroke-width="1.0" />
<line x1="540.03" y1="149.00" x2="540.03" y2="146.40" stroke="#000" stroke-width="1.0" />
<line x1="550.14" y1="19.50" x2="550.14" y2="22.10" stroke="#000" stroke-width="1.0" />
<line x1="550.14" y1="149.00" x2="550.14" y2="146.40" stroke="#000" stroke-width="1.0" />
<line x1="606.32" y1="19.50" x2="606.32" y2="22.10" stroke="#000" stroke-width="1.0" />
<line x1="606.32" y1="149.00" x2="606.32" y2="146.40" stroke="#000" stroke-width="1.0" />
<line x1="630.79" y1="19.50" x2="630.79" y2="22.10" stroke="#000" stroke-width="1.0" />
<line x1="630.79" y1="149.00" x2="630.79" y2="146.40" stroke="#000" stroke-width="1.0" />
<line x1="647.37" y1="19.50" x2="647.37" y2="22.10" stroke="#000" stroke-width="1.0" />
<line x1="647.37" y1="149.00" x2="647.37" y2="146.40" stroke="#000" stroke-width="1.0" />
<line x1="659.93" y1="19.50" x2="659.93" y2="22.10" stroke="#000" stroke-width="1.0" />
<line x1="659.93" y1="149.00" x2="659.93" y2="146.40" stroke="#000" stroke-width="1.0" />
<line x1="670.04" y1="19.50" x2="670.04" y2="22.10" stroke="#000" stroke-width="1.0" />
<line x1="670.04" y1="149.00" x2="670.04" y2="146.40" stroke="#000" stroke-width="1.0" />
<line x1="438.71" y1="158.00" x2="438.71" y2="165.40" stroke="#000" stroke-width="1.0" />
<line x1="438.71" y1="211.00" x2="438.71" y2="203.60" stroke="#000" stroke-width="1.0" />
<line x1="558.61" y1="158.00" x2="558.61" y2="165.40" stroke="#000" stroke-width="1.0" />
<line x1="558.61" y1="211.00" x2="558.61" y2="203.60" stroke="#000" stroke-width="1.0" />
<line x1="678.50" y1="158.00" x2="678.50" y2="165.40" stroke="#000" stroke-width="1.0" />
<line x1="678.50" y1="211.00" x2="678.50" y2="203.60" stroke="#000" stroke-width="1.0" />
<line x1="407.58" y1="158.00" x2="407.58" y2="160.60" stroke="#000" stroke-width="1.0" />
<line x1="407.58" y1="211.00" x2="407.58" y2="208.40" stroke="#000" stroke-width="1.0" />
<line x1="420.14" y1="158.00" x2="420.14" y2="160.60" stroke="#000" stroke-width="1.0" />
<line x1="420.14" y1="211.00" x2="420.14" y2="208.40" stroke="#000" stroke-width="1.0" />
<line x1="430.25" y1="158.00" x2="430.25" y2="160.60" stroke="#000" stroke-width="1.0" />
<line x1="430.25" y1="211.00" x2="430.25" y2="208.40" stroke="#000" stroke-width="1.0" />
<line x1="486.42" y1="158.00" x2="486.42" y2="160.60" stroke="#000" stroke-width="1.0" />
<line x1="486.42" y1="211.00" x2="486.42" y2="208.40" stroke="#000" stroke-width="1.0" />
<line x1="510.89" y1="158.00" x2="510.89" y2="160.60" stroke="#000" stroke-width="1.0" />
<line x1="510.89" y1="211.00" x2="510.89" y2="208.40" stroke="#000" stroke-width="1.0" />
<line x1="527.48" y1="158.00" x2="527.48" y2="160.60" stroke="#000" stroke-width="1.0" />
<line x1="527.48" y1="211.00" x2="527.48" y2="208.40" stroke="#000" stroke-width="1.0" />
<line x1="540.03" y1="158.00" x2="540.03" y2="160.60" stroke="#000" stroke-width="1.0" />
<line x1="540.03" y1="211.00" x2="540.03" y2="208.40" stroke="#000" stroke-width="1.0" />
<line x1="550.14" y1="158.00" x2="550.14" y2="160.60" stroke="#000" stroke-width="1.0" />
<line x1="550.14" y1="211.00" x2="550.14" y2="208.40" stroke="#000" stroke-width="1.0" />
<line x1="606.32" y1="158.00" x2="606.32" y2="160.60" stroke="#000" stroke-width="1.0" />
<line x1="606.32" y1="211.00" x2="606.32" y2="208.40" stroke="#000" stroke-width="1.0" />
<line x1="630.79" y1="158.00" x2="630.79" y2="160.60" stroke="#000" stroke-width="1.0" />
<line x1="630.79" y1="211.00" x2="630.79" y2="208.40" stroke="#000" stroke-width="1.0" />
<line x1="647.37" y1="158.00" x2="647.37" y2="160.60" stroke="#000" stroke-width="1.0" />
<line x1="647.37" y1="211.00" x2="647.37" y2="208.40" stroke="#000" stroke-width="1.0" />
<line x1="659.93" y1="158.00" x2="659.93" y2="160.60" stroke="#000" stroke-width="1.0" />
<line x1="659.93" y1="211.00" x2="659.93" y2="208.40" stroke="#000" stroke-width="1.0" />
<line x1="670.04" y1="158.00" x2="670.04" y2="160.60" stroke="#000" stroke-width="1.0" />
<line x1="670.04" y1="211.00" x2="670.04" y2="208.40" stroke="#000" stroke-width="1.0" />
<line x1="391.00" y1="122.61" x2="398.40" y2="122.61" stroke="#000" stroke-width="1.0" />
<line x1="678.50" y1="122.61" x2="671.10" y2="122.61" stroke="#000" stroke-width="1.0" />
<line x1="391.00" y1="34.94" x2="398.40" y2="34.94" stroke="#000" stroke-width="1.0" />
<line x1="678.50" y1="34.94" x2="671.10" y2="34.94" stroke="#000" stroke-width="1.0" />
<line x1="391.00" y1="136.19" x2="393.60" y2="136.19" stroke="#000" stroke-width="1.0" />
<line x1="678.50" y1="136.19" x2="675.90" y2="136.19" stroke="#000" stroke-width="1.0" />
<line x1="391.00" y1="69.83" x2="393.60" y2="69.83" stroke="#000" stroke-width="1.0" />
<line x1="678.50" y1="69.83" x2="675.90" y2="69.83" stroke="#000" stroke-width="1.0" />
<line x1="391.00" y1="48.52" x2="393.60" y2="48.52" stroke="#000" stroke-width="1.0" />
<line x1="678.50" y1="48.52" x2="675.90" y2="48.52" stroke="#000" stroke-width="1.0" />
<line x1="391.00" y1="205.70" x2="396.30" y2="205.70" stroke="#000" stroke-width="1.0" />
<line x1="678.50" y1="205.70" x2="673.20" y2="205.70" stroke="#000" stroke-width="1.0" />
<line x1="391.00" y1="195.10" x2="396.30" y2="195.10" stroke="#000" stroke-width="1.0" />
<line x1="678.50" y1="195.10" x2="673.20" y2="195.10" stroke="#000" stroke-width="1.0" />
<line x1="391.00" y1="184.50" x2="396.30" y2="184.50" stroke="#000" stroke-width="1.0" />
<line x1="678.50" y1="184.50" x2="673.20" y2="184.50" stroke="#000" stroke-width="1.0" />
<line x1="391.00" y1="173.90" x2="396.30" y2="173.90" stroke="#000" stroke-width="1.0" />
<line x1="678.50" y1="173.90" x2="673.20" y2="173.90" stroke="#000" stroke-width="1.0" />
<line x1="391.00" y1="163.30" x2="396.30" y2="163.30" stroke="#000" stroke-width="1.0" />
<line x1="678.50" y1="163.30" x2="673.20" y2="163.30" stroke="#000" stroke-width="1.0" />
<text x="382.30" y="126.81" font-size="10.0" text-anchor="end" >10</text>
<text x="383.00" y="122.11" font-size="6.9" >1</text>
<text x="382.30" y="39.14" font-size="10.0" text-anchor="end" >10</text>
<text x="383.00" y="34.44" font-size="6.9" >2</text>
<text x="385.30" y="209.60" font-size="9.6" text-anchor="end" >0.2</text>
<text x="385.30" y="199.00" font-size="9.6" text-anchor="end" >0.6</text>
<text x="385.30" y="188.40" font-size="9.6" text-anchor="end" >1.0</text>
<text x="385.30" y="177.80" font-size="9.6" text-anchor="end" >1.4</text>
<text x="385.30" y="167.20" font-size="9.6" text-anchor="end" >1.8</text>
<text x="443.01" y="224.60" font-size="10.0" text-anchor="end" >10</text>
<text x="442.11" y="220.60" font-size="6.9" >1</text>
<text x="562.91" y="224.60" font-size="10.0" text-anchor="end" >10</text>
<text x="562.01" y="220.60" font-size="6.9" >2</text>
<text x="682.80" y="224.60" font-size="10.0" text-anchor="end" >10</text>
<text x="681.90" y="220.60" font-size="6.9" >3</text>
<g transform="translate(364.5,0) rotate(-90)" font-size="10.4"><text x="-98.3">f</text><text x="-91.5">(x,</text><text x="-77.9">k</text><text x="-72.0" y="-6.6" font-size="8.6">2</text><text x="-72.4" y="2.6" font-size="8.6">T</text><text x="-63.4">)</text></g>
<g transform="translate(363.9,185.0) rotate(-90)"><text x="0" y="0" font-size="10.5" text-anchor="middle">Ratio</text></g>
<text x="497.2" y="9.8" font-size="10.6">f(x,k</text>
<text x="518.1" y="5.6" font-size="7.2">2</text>
<text x="518.1" y="12.6" font-size="7.2">T</text>
<text x="522.8" y="9.8" font-size="10.6">),</text>
<text x="531.8" y="9.8" font-size="10.6">x =</text>
<text x="549.7" y="9.9" font-size="10.9" letter-spacing="0.4">10</text>
<text x="562.5" y="5.4" font-size="7.8" letter-spacing="-0.5">-5</text>
<text x="513.0" y="242" font-size="10.4">k</text>
<text x="518.5" y="237.9" font-size="7.9">2</text>
<text x="518.6" y="245.4" font-size="7.6">T</text>
<text x="526.1" y="242" font-size="10.4">/ GeV</text>
<text x="551.8" y="237.9" font-size="7.9">2</text>
<line x1="555.70" y1="36.50" x2="568.60" y2="36.50" stroke="#8080ff" stroke-width="1.0" />
<line x1="555.70" y1="49.00" x2="568.60" y2="49.00" stroke="#ff7070" stroke-width="1.3" />
<line x1="555.70" y1="60.20" x2="558.60" y2="60.20" stroke="#0a820a" stroke-width="1.5" />
<line x1="558.60" y1="60.20" x2="565.90" y2="60.20" stroke="#0a820a" stroke-width="1.5" stroke-opacity="0.3"/>
<line x1="566.20" y1="60.20" x2="568.60" y2="60.20" stroke="#0a820a" stroke-width="1.5" />
<line x1="561.50" y1="56.90" x2="561.50" y2="63.50" stroke="#3d9f3d" stroke-width="1.0" />
<line x1="559.00" y1="60.20" x2="564.00" y2="60.20" stroke="#3d9f3d" stroke-width="1.0" stroke-opacity="0.6"/>
<text x="574.80" y="39.40" font-size="9.2" >MD-BFKL, R = 5 GeV<tspan font-size="6" dx="-1.6" dy="-3.9" letter-spacing="-0.5">&#8722;1</tspan></text>
<text x="574.80" y="52.00" font-size="9.2" >MD-BFKL, R = 2 GeV<tspan font-size="6" dx="-1.6" dy="-3.9" letter-spacing="-0.5">&#8722;1</tspan></text>
<text x="574.80" y="63.60" font-size="9.2" >Modified BK</text>
<line x1="462.70" y1="200.30" x2="471.50" y2="200.30" stroke="#8080ff" stroke-width="1.0" />
<text x="476.90" y="202.90" font-size="7.0" >MD-BFKL, R5/ Modified BK</text>
<line x1="569.40" y1="200.30" x2="578.00" y2="200.30" stroke="#ff7070" stroke-width="1.2" />
<text x="583.80" y="202.90" font-size="7.0" >MD-BFKL, R2 / Modified BK</text>
</svg>
</body></html>
